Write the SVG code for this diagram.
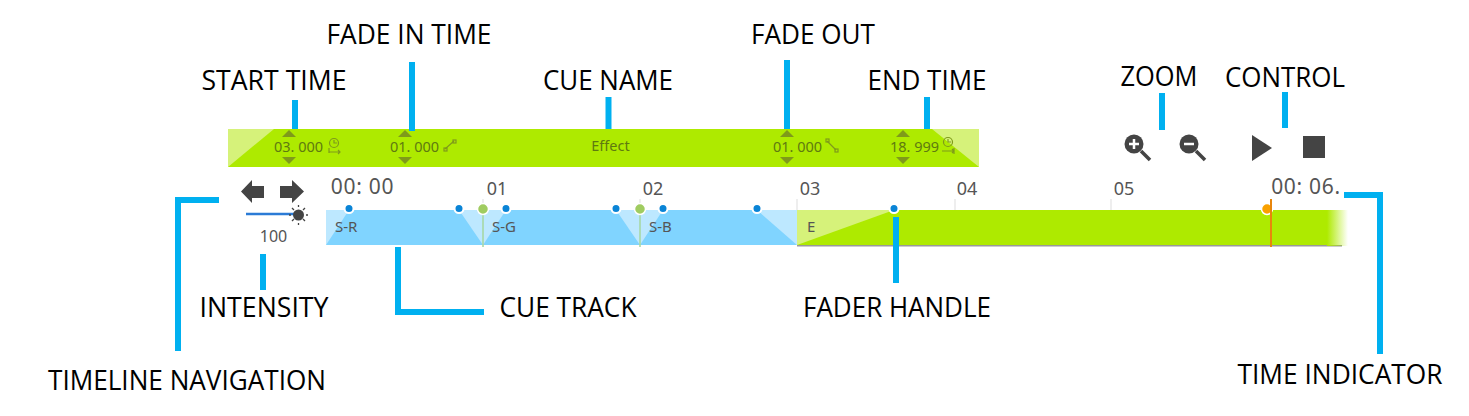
<svg xmlns="http://www.w3.org/2000/svg" width="1469" height="416" viewBox="0 0 1469 416">
<style>
.lbl{font-family:"Open Sans","Liberation Sans",sans-serif;font-size:28px;fill:#000;text-anchor:middle}
.sm{font-family:"Noto Sans","Liberation Sans",sans-serif;font-size:14.5px;fill:#5f7a10;text-anchor:middle}
.tk{font-family:"Noto Sans","Liberation Sans",sans-serif;font-size:18px;fill:#555;text-anchor:middle}
.big{font-size:21px;letter-spacing:.7px}
.tr{font-family:"Noto Sans","Liberation Sans",sans-serif;font-size:15px;fill:#555}
.c{fill:none;stroke:#00b0f0;stroke-width:6}
.h{fill:#0a84d6;stroke:#fff;stroke-width:2}
.d{fill:#7f9a1a}
.ic{fill:none;stroke:#7f9a1a;stroke-width:1.2}
.dk{fill:#444}
</style>
<defs><linearGradient id="fade" x1="0" x2="1" y1="0" y2="0"><stop offset="0" stop-color="#aeea00"/><stop offset="1" stop-color="#aeea00" stop-opacity="0"/></linearGradient></defs>

<g id="cue-bar">
<rect x="228" y="129" width="751" height="38" fill="#aeea00"/>
<polygon points="228,129 274,129 228,167" fill="#d6f27a"/>
<polygon points="932,129 979,129 979,167" fill="#d6f27a"/>
</g>
<g id="start-time">
<polygon class="d" points="289,130 282,137 296,137"/><polygon class="d" points="282,157 296,157 289,164"/>
<text class="sm" x="298.500" y="152">03. 000</text>
<circle class="ic" cx="334" cy="143" r="4.500"/><path class="ic" d="M334,140V143H337M329,152H340M329,148V153M338,150l2,2l-2,2"/>
</g>
<g id="fade-in-time">
<polygon class="d" points="405,130 398,137 412,137"/><polygon class="d" points="398,157 412,157 405,164"/>
<text class="sm" x="414.500" y="152">01. 000</text>
<path class="ic" d="M445,149l9,-8"/><rect class="ic" x="444" y="148" width="3" height="3"/><rect class="ic" x="453" y="140" width="3" height="3"/>
</g>
<g id="cue-name"><text class="sm" x="610.500" y="151">Effect</text></g>
<g id="fade-out">
<polygon class="d" points="787,130 780,137 794,137"/><polygon class="d" points="780,157 794,157 787,164"/>
<text class="sm" x="797.500" y="152">01. 000</text>
<path class="ic" d="M827,141l9,9"/><rect class="ic" x="826" y="139" width="3" height="3"/><rect class="ic" x="835" y="149" width="3" height="3"/>
</g>
<g id="end-time">
<polygon class="d" points="903,130 896,137 910,137"/><polygon class="d" points="896,157 910,157 903,164"/>
<text class="sm" x="914.500" y="152">18. 999</text>
<circle class="ic" cx="948" cy="142" r="4.500"/><path class="ic" d="M948,139V142H951M942,151H954M952,149l2,2l-2,2M954,148V154"/>
</g>

<g id="zoom-in"><path d="M1141,151l9,9" stroke="#444" stroke-width="3.500" fill="none"/><circle class="dk" cx="1134" cy="144" r="9.500"/><path d="M1129,144H1139M1134,139V149" stroke="#fff" stroke-width="2.500"/></g>
<g id="zoom-out"><path d="M1196,151l9,9" stroke="#444" stroke-width="3.500" fill="none"/><circle class="dk" cx="1189" cy="144" r="9.500"/><path d="M1184,144H1194" stroke="#fff" stroke-width="2.500"/></g>
<g id="play"><polygon class="dk" points="1252,135 1272,148 1252,161"/></g>
<g id="stop"><rect class="dk" x="1303" y="136" width="22" height="22"/></g>

<g id="timeline-navigation">
<polygon class="dk" points="241,191.500 252,180 252,186 264,186 264,198 252,198 252,203"/>
<polygon class="dk" points="304,191.500 292,180 292,186 280,186 280,198 292,198 292,203"/>
</g>
<g id="intensity">
<path d="M246,214H298" stroke="#2b7bd6" stroke-width="2.500"/>
<circle class="dk" cx="298.500" cy="215" r="5.500"/>
<path d="M298.500,205v2M298.500,223v2M289,215h2M306,215h2M292,208l2,2M303,219l2,2M305,208l-2,2M294,219l-2,2" stroke="#444" stroke-width="1.300"/>
<text class="tk" style="font-size:16px" x="273.500" y="242">100</text>
</g>

<g id="time-ruler">
<path d="M797,199V245M955,199V245M1111,199V245M483,199V210M640,199V210" stroke="#ddd" stroke-width="1" fill="none"/>
<text class="tk big" x="362.500" y="194">00: 00</text>
<text class="tk" x="497" y="195">01</text>
<text class="tk" x="653" y="195">02</text>
<text class="tk" x="810" y="195">03</text>
<text class="tk" x="967" y="195">04</text>
<text class="tk" x="1124" y="195">05</text>
<text class="tk big" x="1306" y="194">00: 06.</text>
</g>

<g id="cue-track">
<rect x="326" y="210" width="471" height="35" fill="#80d4ff"/>
<polygon points="326,210 349,210 326,245" fill="#bde8ff"/>
<polygon points="459,210 506,210 483,245" fill="#bde8ff"/>
<polygon points="616,210 663,210 640,245" fill="#bde8ff"/>
<polygon points="757,210 797,210 797,245" fill="#bde8ff"/>
<path d="M483,210V247M640,210V247" stroke="#a5d6a0" stroke-width="1.500"/>
<text class="tr" x="335" y="232">S-R</text>
<text class="tr" x="492" y="232">S-G</text>
<text class="tr" x="649" y="232">S-B</text>
</g>
<g id="effect-track">
<rect x="797" y="245" width="545" height="1.500" fill="#999"/>
<rect x="797" y="210" width="530" height="35" fill="#aeea00"/>
<rect x="1327" y="210" width="21" height="36" fill="url(#fade)"/>
<polygon points="797,210 894,210 797,245" fill="#d6f27a"/>
<text class="tr" x="807" y="232">E</text>
</g>
<g id="handles">
<circle class="h" cx="349" cy="208.500" r="4.500"/><circle class="h" cx="459" cy="208.500" r="4.500"/><circle class="h" cx="506" cy="208.500" r="4.500"/>
<circle class="h" cx="616" cy="208.500" r="4.500"/><circle class="h" cx="663" cy="208.500" r="4.500"/><circle class="h" cx="757" cy="208.500" r="4.500"/>
<circle class="h" cx="894" cy="208.500" r="4.500"/>
<circle cx="483" cy="209" r="5.500" fill="#a0cc60" stroke="#fff" stroke-width="1.500"/>
<circle cx="640" cy="209" r="5.500" fill="#a0cc60" stroke="#fff" stroke-width="1.500"/>
</g>
<g id="time-indicator">
<circle cx="1267" cy="209" r="5.500" fill="#f9a100" stroke="#fff" stroke-width="1.500"/>
<path d="M1271,199V247" stroke="#e8860c" stroke-width="2"/>
</g>

<g id="connectors">
<path class="c" d="M295,100V129"/>
<path class="c" d="M412,62V131"/>
<path class="c" d="M608.500,97V129"/>
<path class="c" d="M787,60V129"/>
<path class="c" d="M927,97V129"/>
<path class="c" d="M1162,93V130"/>
<path class="c" d="M1285,92V128"/>
<path class="c" d="M219,200H178V351"/>
<path class="c" d="M263,254V290"/>
<path class="c" d="M398,247V312H484"/>
<path class="c" d="M896,217V283"/>
<path class="c" d="M1344,195H1380V354"/>
</g>

<g id="labels">
<text class="lbl" x="274" y="90" textLength="145" lengthAdjust="spacingAndGlyphs">START TIME</text>
<text class="lbl" x="409" y="44" textLength="165" lengthAdjust="spacingAndGlyphs">FADE IN TIME</text>
<text class="lbl" x="608" y="90" textLength="130" lengthAdjust="spacingAndGlyphs">CUE NAME</text>
<text class="lbl" x="813" y="44" textLength="124" lengthAdjust="spacingAndGlyphs">FADE OUT</text>
<text class="lbl" x="927" y="90" textLength="119" lengthAdjust="spacingAndGlyphs">END TIME</text>
<text class="lbl" x="1159" y="86" textLength="77" lengthAdjust="spacingAndGlyphs">ZOOM</text>
<text class="lbl" x="1285" y="87" textLength="120" lengthAdjust="spacingAndGlyphs">CONTROL</text>
<text class="lbl" x="264" y="317" textLength="129" lengthAdjust="spacingAndGlyphs">INTENSITY</text>
<text class="lbl" x="568" y="317" textLength="137" lengthAdjust="spacingAndGlyphs">CUE TRACK</text>
<text class="lbl" x="897" y="317" textLength="188" lengthAdjust="spacingAndGlyphs">FADER HANDLE</text>
<text class="lbl" x="187" y="390" textLength="278" lengthAdjust="spacingAndGlyphs">TIMELINE NAVIGATION</text>
<text class="lbl" x="1340" y="384" textLength="205" lengthAdjust="spacingAndGlyphs">TIME INDICATOR</text>
</g>
</svg>
